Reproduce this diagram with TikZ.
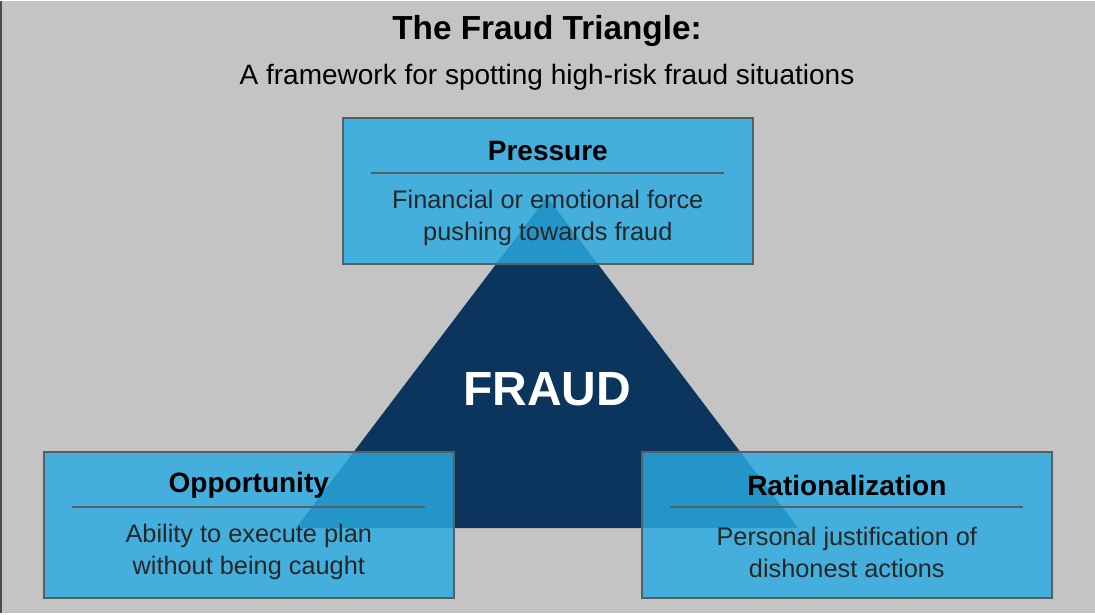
\documentclass[tikz,border=0pt]{standalone}
\usepackage{fontspec}
\setmainfont{Liberation Sans}
\definecolor{bg}{HTML}{C4C4C4}
\definecolor{navy}{HTML}{0B355C}
\definecolor{cyanbox}{HTML}{29ABE2}
\definecolor{edge}{HTML}{555F66}
\begin{document}
\begin{tikzpicture}[x=0.75pt,y=-0.75pt,
  infobox/.style={draw=edge,line width=1.2pt,fill=cyanbox,fill opacity=0.82,text opacity=1,minimum width=307.5pt,minimum height=109.5pt,anchor=north west,inner sep=0pt},
  boxtitle/.style={font=\fontsize{21}{25}\selectfont\bfseries,text=black},
  boxtext/.style={font=\fontsize{19}{24}\selectfont,text=black!85,align=center}]
\fill[bg] (0,0) rectangle (1095,612);
\draw[line width=1.5pt,black!70] (1,0) -- (1,612);
\node[font=\fontsize{25}{30}\selectfont\bfseries] (title) at (547,30) {The Fraud Triangle:};
\node[font=\fontsize{21}{26}\selectfont] (sub) at (547,76) {A framework for spotting high-risk fraud situations};
\fill[navy] (547,196) -- (296,527) -- (798,527) -- cycle;
\node[font=\fontsize{36}{40}\selectfont\bfseries,text=white] (fraud) at (547,388) {FRAUD};
% boxes
\node[infobox] (p) at (342,116) {};
\node[infobox] (o) at (43,450) {};
\node[infobox] (r) at (641,450) {};
\foreach \b/\t/\la/\lb in {p/Pressure/Financial or emotional force/pushing towards fraud,
  o/Opportunity/Ability to execute plan/without being caught,
  r/Rationalization/Personal justification of/dishonest actions}{
  \node[boxtitle] (\b t) at ([yshift=-25.5pt]\b.north) {\t};
  \draw[edge,line width=1pt] ([xshift=22pt,yshift=-42pt]\b.north west) -- ([xshift=-22pt,yshift=-42pt]\b.north east);
  \node[boxtext] (\b x) at ([yshift=-76pt]\b.north) {\la\\\lb};
}
\end{tikzpicture}
\end{document}
